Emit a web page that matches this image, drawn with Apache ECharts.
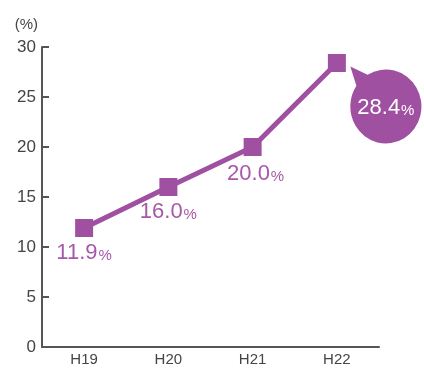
<!DOCTYPE html>
<html>
<head>
<meta charset="utf-8">
<script src="https://cdn.jsdelivr.net/npm/echarts@6/dist/echarts.min.js"></script>
<style>
  html, body { margin: 0; padding: 0; background: #fff; }
  #container { width: 424px; height: 368px; }
</style>
</head>
<body>
<div id="container"></div>
<script>
// データ
var categories = ['H19', 'H20', 'H21', 'H22'];
var rates = [11.9, 16.0, 20.0, 28.4];
var yTicks = [0, 5, 10, 15, 20, 25, 30];

var purple = '#a050a0';
var labelPurple = '#a858a8';
var axisGray = '#555555';
var textGray = '#444444';
var font = '"Liberation Sans", Arial, sans-serif';

function rateRich(color) {
	return {
		n: { fontSize: 22, color: color, fontFamily: font },
		p: { fontSize: 15, color: color, fontFamily: font, padding: [5, 0, 0, 1] }
	};
}
function rateText(p) {
	return '{n|' + p.value.toFixed(1) + '}{p|%}';
}

var last = rates.length - 1;
var lineData = rates.map(function (v, i) {
	var item = { value: v };
	if (i === last) {
		item.label = { show: false };
	} else if (i === 2) {
		item.label = { offset: [3, 2] };
	}
	return item;
});

// 吹き出し
var bubblePath = 'path://M0 0 L17.94 8.29 A37 37 0 1 1 6.33 19.31 Z';

var option = {
	animation: false,
	grid: { left: 42, right: 45, top: 47, bottom: 21, containLabel: false },
	xAxis: {
		type: 'category',
		data: categories,
		boundaryGap: true,
		axisLine: { lineStyle: { color: axisGray, width: 2 } },
		axisTick: { inside: true, length: 7, lineStyle: { color: axisGray, width: 2 } },
		axisLabel: { color: textGray, fontSize: 15, margin: 5, fontFamily: font },
		splitLine: { show: false }
	},
	yAxis: {
		type: 'value',
		min: yTicks[0],
		max: yTicks[yTicks.length - 1],
		interval: yTicks[1] - yTicks[0],
		name: '(%)',
		nameLocation: 'end',
		nameGap: 15,
		nameTextStyle: { color: textGray, fontSize: 15, align: 'right', padding: [0, 4, 0, 0], fontFamily: font },
		axisLine: { show: true, lineStyle: { color: axisGray, width: 2 } },
		axisTick: { show: true, inside: true, length: 7, lineStyle: { color: axisGray, width: 2 } },
		axisLabel: { color: textGray, fontSize: 17, margin: 6, fontFamily: font },
		splitLine: { show: false }
	},
	series: [{
		type: 'line',
		data: lineData,
		symbol: 'rect',
		symbolSize: 18,
		lineStyle: { color: purple, width: 5 },
		itemStyle: { color: purple },
		label: {
			show: true,
			position: 'bottom',
			distance: 5,
			formatter: rateText,
			rich: rateRich(labelPurple)
		},
		markPoint: {
			symbol: bubblePath,
			symbolSize: [74, 77],
			symbolKeepAspect: true,
			symbolOffset: [49, 42],
			itemStyle: { color: purple },
			label: {
				show: true,
				offset: [0, 3],
				formatter: rateText,
				rich: rateRich('#ffffff')
			},
			data: [{ coord: [categories[last], rates[last]], value: rates[last] }]
		}
	}]
};

var myChart = echarts.init(document.getElementById('container'));
myChart.setOption(option);
</script>
</body>
</html>
